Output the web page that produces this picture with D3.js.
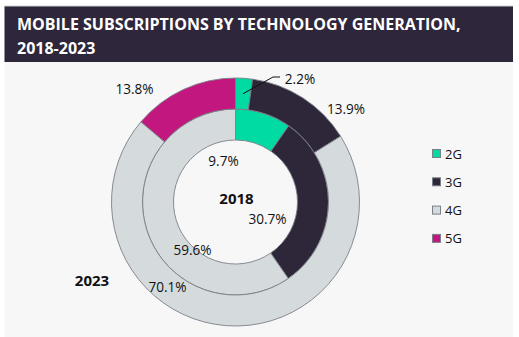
<!DOCTYPE html>
<html><head><meta charset="utf-8">
<script src="https://cdn.jsdelivr.net/npm/d3@7"></script>
<style>
html,body{margin:0;padding:0;background:#fff;}
svg{display:block;font-family:"Open Sans",sans-serif;}
</style></head>
<body>
<svg id="c" width="519" height="337"></svg>
<script>
const categories = ["2G","3G","4G","5G"];
const years = ["2018","2023"];
const values2018 = [9.7, 30.7, 59.6, 0];
const values2023 = [2.2, 13.9, 70.1, 13.8];
const colors = ["#00dba3","#2e2739","#d5dadd","#c2177e"];
const titleLines = ["MOBILE SUBSCRIPTIONS BY TECHNOLOGY GENERATION,","2018-2023"];

const svg = d3.select("#c");
// card
svg.append("rect").attr("x",4.5).attr("y",6).attr("width",508.5).attr("height",331).attr("fill","#f7f7f7");
svg.append("rect").attr("x",4.5).attr("y",6).attr("width",508.5).attr("height",56).attr("fill","#2e273c");
svg.append("line").attr("x1",4.5).attr("x2",513).attr("y1",6).attr("y2",6).attr("stroke","#d0d0d0");
svg.selectAll("text.title").data(titleLines).enter().append("text")
  .attr("x",17).attr("y",(d,i)=>30+i*23.5)
  .attr("fill","#fff").attr("font-weight","bold").attr("font-size","16px")
  .text(d=>d);

const cx = 235.5, cy = 202;
const g = svg.append("g").attr("transform",`translate(${cx},${cy})`);
const pie = d3.pie().sort(null).value(d=>d);
const color = d3.scaleOrdinal().domain(categories).range(colors);

const rings = [
  {vals: values2018, r0: 62, r1: 93},
  {vals: values2023, r0: 93, r1: 124}
];
rings.forEach(ring=>{
  const arc = d3.arc().innerRadius(ring.r0).outerRadius(ring.r1);
  g.append("g").selectAll("path").data(pie(ring.vals).filter(d=>d.value>0)).enter().append("path")
    .attr("d",arc).attr("fill",d=>color(categories[d.index]))
    .attr("stroke","#7b8088").attr("stroke-width",0.9);
});

// labels (offsets relative to centre)
const labelPos2018 = [[-12,-41],[32,17],[-43,48],null];
const labelPos2023 = [[64.5,-123],[110.5,-93],[-68,85],[-101,-113]];
function addLabels(vals,pos){
  vals.forEach((v,i)=>{
    if(!pos[i] || v<=0) return;
    g.append("text").attr("x",pos[i][0]).attr("y",pos[i][1]).attr("dy","0.35em")
      .attr("text-anchor","middle").attr("font-size","13.6px").attr("fill","#111")
      .text(d3.format(".1f")(v)+"%");
  });
}
addLabels(values2018,labelPos2018);
addLabels(values2023,labelPos2023);
// leader line for 2.2%
{
  const a = pie(values2023)[0];
  const c = d3.arc().innerRadius(93).outerRadius(124).centroid(a);
  g.append("polyline").attr("points",`${c[0]},${c[1]} ${37.5},${-125} ${44.5},${-125}`)
    .attr("fill","none").attr("stroke","#111").attr("stroke-width",1);
}
// year labels
g.append("text").attr("x",1).attr("y",2).attr("text-anchor","middle").attr("font-weight","bold").attr("font-size","15px").attr("fill","#111").text(years[0]);
g.append("text").attr("x",-143.5).attr("y",84).attr("text-anchor","middle").attr("font-weight","bold").attr("font-size","15px").attr("fill","#111").text(years[1]);

// legend
const leg = svg.append("g").attr("transform","translate(432,154)");
const li = leg.selectAll("g").data(categories).enter().append("g")
  .attr("transform",(d,i)=>`translate(0,${i*28.3})`);
li.append("rect").attr("x",0.5).attr("y",-4.5).attr("width",8).attr("height",8)
  .attr("fill",d=>color(d)).attr("stroke","#7b8088").attr("stroke-width",1);
li.append("text").attr("x",13).attr("y",0).attr("dy","0.35em").attr("font-size","13px").attr("fill","#111").text(d=>d);
</script>
</body></html>
